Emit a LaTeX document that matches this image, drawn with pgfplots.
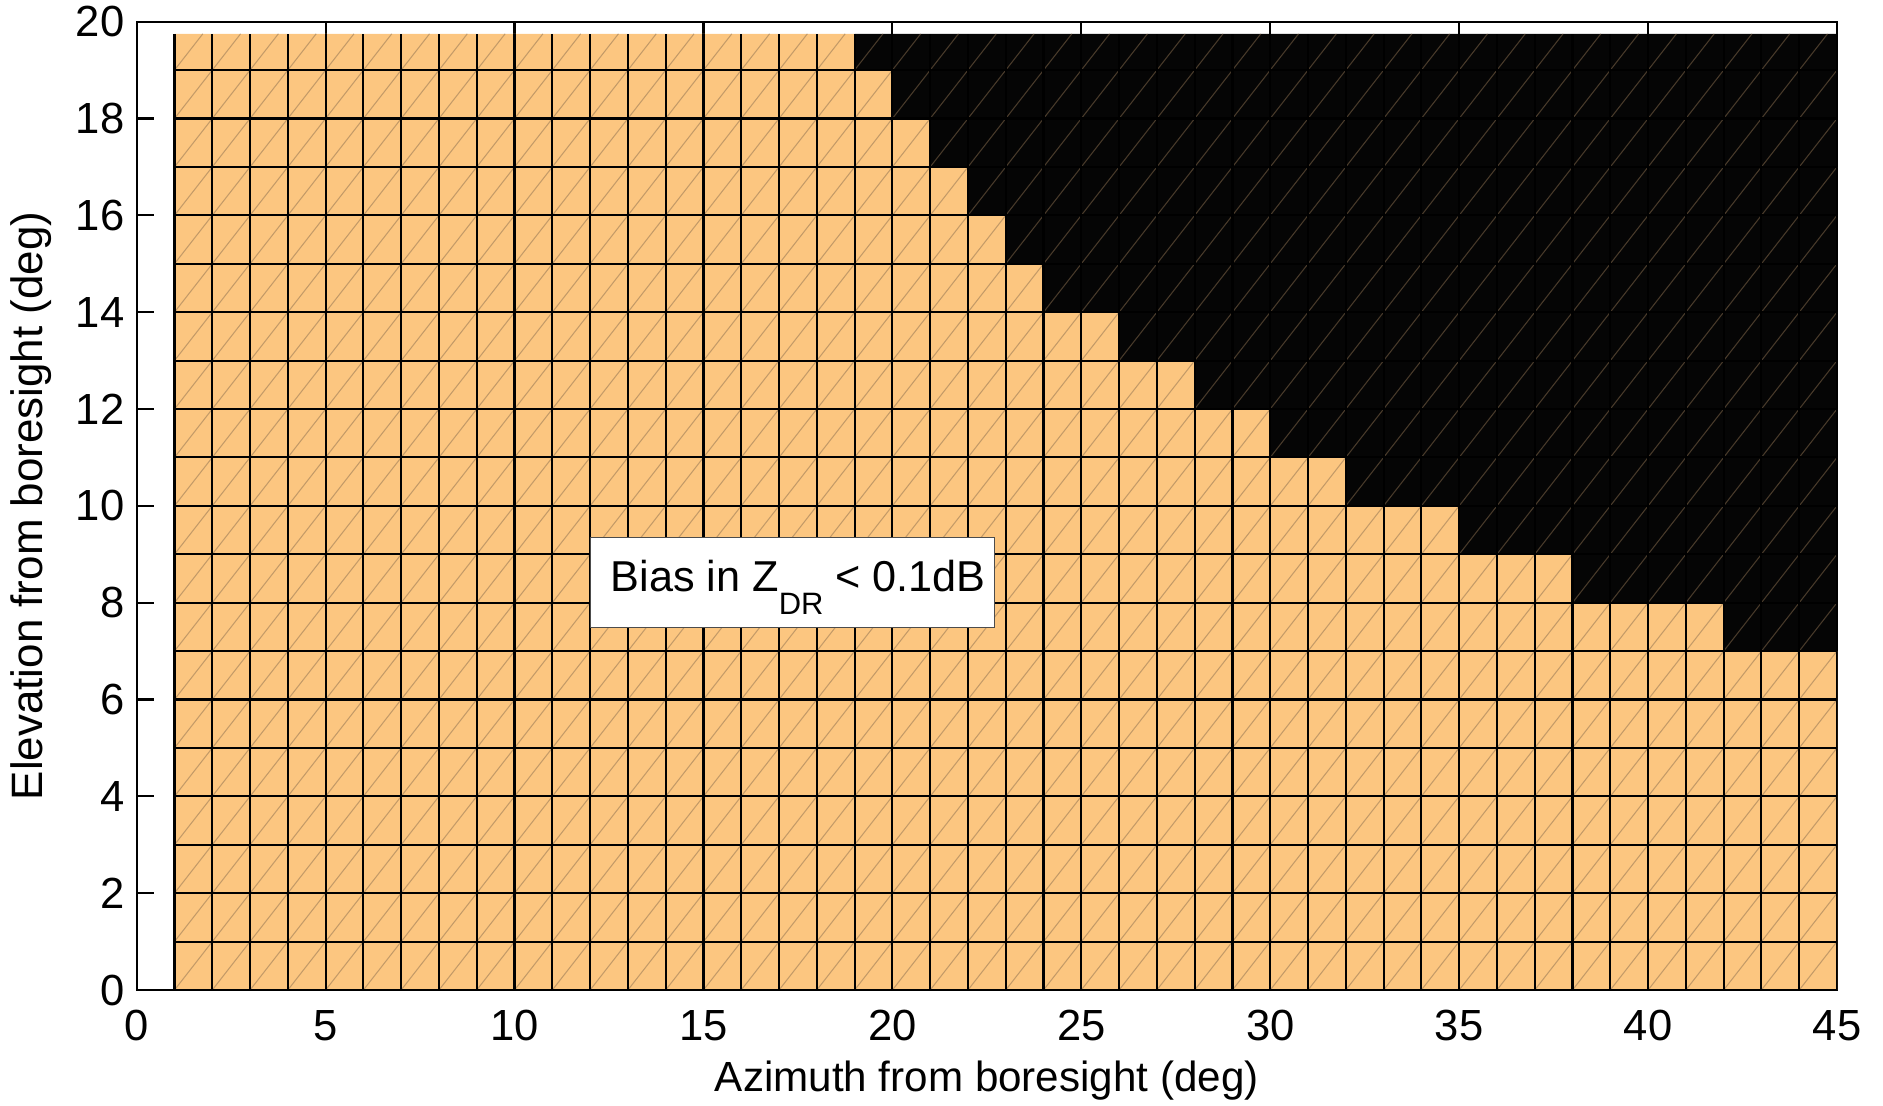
\documentclass[border=0pt]{standalone}
\usepackage{fontspec}
\setmainfont{Liberation Sans}
\usepackage{pgfplots}
\pgfplotsset{compat=1.18}
\definecolor{cellorange}{RGB}{252,198,128}
\definecolor{seam}{RGB}{140,112,80}

\begin{document}
\begin{tikzpicture}
\begin{axis}[
    scale only axis,
    width=170.03mm, height=96.83mm,
    xmin=0, xmax=45, ymin=0, ymax=20,
    xtick={0,5,...,45}, ytick={0,2,...,20},
    tick align=inside, major tick length=1.7mm,
    every tick/.style={black, line width=0.6pt},
    axis line style={line width=0.6pt},
    /pgf/number format/assume math mode=true,
    tick label style={font=\fontsize{12.4}{14}\selectfont},
    xticklabel style={yshift=-0.8mm},
    xlabel style={font=\fontsize{12}{14}\selectfont},
    ylabel style={font=\fontsize{12.5}{14}\selectfont},
    xlabel={Azimuth from boresight (deg)},
    ylabel={Elevation from boresight (deg)},
    xlabel style={at={(axis description cs:0.5,-0.094)}, anchor=center},
    ylabel style={at={(axis description cs:-0.0623,0.5)}, anchor=center},
]
% region where the bias stays below 0.1 dB
\addplot[fill=cellorange, draw=none] coordinates {
    (1,0) (45,0) (45,7) (42,7) (42,8) (38,8) (38,9) (35,9) (35,10)
    (32,10) (32,11) (30,11) (30,12) (28,12) (28,13) (26,13) (26,14)
    (24,14) (24,15) (23,15) (23,16) (22,16) (22,17) (21,17) (21,18)
    (20,18) (20,19) (19,19) (19,19.75) (1,19.75)};
% region above the threshold
\addplot[fill=black!98, draw=none] coordinates {
    (19,19.75) (19,19) (20,19) (20,18) (21,18) (21,17) (22,17) (22,16)
    (23,16) (23,15) (24,15) (24,14) (26,14) (26,13) (28,13) (28,12)
    (30,12) (30,11) (32,11) (32,10) (35,10) (35,9) (38,9) (38,8)
    (42,8) (42,7) (45,7) (45,19.75)};
% faint diagonal seams of the triangulated cells
\addplot[seam, opacity=0.5, line width=0.3pt, unbounded coords=jump] coordinates {
    (1,19) (1.75,19.75) (nan,nan) (1,18) (2.75,19.75) (nan,nan)
    (1,17) (3.75,19.75) (nan,nan) (1,16) (4.75,19.75) (nan,nan)
    (1,15) (5.75,19.75) (nan,nan) (1,14) (6.75,19.75) (nan,nan)
    (1,13) (7.75,19.75) (nan,nan) (1,12) (8.75,19.75) (nan,nan)
    (1,11) (9.75,19.75) (nan,nan) (1,10) (10.75,19.75) (nan,nan)
    (1,9) (11.75,19.75) (nan,nan) (1,8) (12.75,19.75) (nan,nan)
    (1,7) (13.75,19.75) (nan,nan) (1,6) (14.75,19.75) (nan,nan)
    (1,5) (15.75,19.75) (nan,nan) (1,4) (16.75,19.75) (nan,nan)
    (1,3) (17.75,19.75) (nan,nan) (1,2) (18.75,19.75) (nan,nan)
    (1,1) (19.75,19.75) (nan,nan) (1,0) (20.75,19.75) (nan,nan)
    (2,0) (21.75,19.75) (nan,nan) (3,0) (22.75,19.75) (nan,nan)
    (4,0) (23.75,19.75) (nan,nan) (5,0) (24.75,19.75) (nan,nan)
    (6,0) (25.75,19.75) (nan,nan) (7,0) (26.75,19.75) (nan,nan)
    (8,0) (27.75,19.75) (nan,nan) (9,0) (28.75,19.75) (nan,nan)
    (10,0) (29.75,19.75) (nan,nan) (11,0) (30.75,19.75) (nan,nan)
    (12,0) (31.75,19.75) (nan,nan) (13,0) (32.75,19.75) (nan,nan)
    (14,0) (33.75,19.75) (nan,nan) (15,0) (34.75,19.75) (nan,nan)
    (16,0) (35.75,19.75) (nan,nan) (17,0) (36.75,19.75) (nan,nan)
    (18,0) (37.75,19.75) (nan,nan) (19,0) (38.75,19.75) (nan,nan)
    (20,0) (39.75,19.75) (nan,nan) (21,0) (40.75,19.75) (nan,nan)
    (22,0) (41.75,19.75) (nan,nan) (23,0) (42.75,19.75) (nan,nan)
    (24,0) (43.75,19.75) (nan,nan) (25,0) (44.75,19.75) (nan,nan)
    (26,0) (45,19) (nan,nan) (27,0) (45,18) (nan,nan)
    (28,0) (45,17) (nan,nan) (29,0) (45,16) (nan,nan)
    (30,0) (45,15) (nan,nan) (31,0) (45,14) (nan,nan)
    (32,0) (45,13) (nan,nan) (33,0) (45,12) (nan,nan)
    (34,0) (45,11) (nan,nan) (35,0) (45,10) (nan,nan)
    (36,0) (45,9) (nan,nan) (37,0) (45,8) (nan,nan)
    (38,0) (45,7) (nan,nan) (39,0) (45,6) (nan,nan)
    (40,0) (45,5) (nan,nan) (41,0) (45,4) (nan,nan)
    (42,0) (45,3) (nan,nan) (43,0) (45,2) (nan,nan)
    (44,0) (45,1)};
% cell edges: columns
\addplot[ycomb, black, line width=0.6pt] coordinates {
    (1,19.75) (2,19.75) (3,19.75) (4,19.75) (5,19.75) (6,19.75) (7,19.75)
    (8,19.75) (9,19.75) (10,19.75) (11,19.75) (12,19.75) (13,19.75)
    (14,19.75) (15,19.75) (16,19.75) (17,19.75) (18,19.75) (19,19.75)
    (20,19.75) (21,19.75) (22,19.75) (23,19.75) (24,19.75) (25,19.75)
    (26,19.75) (27,19.75) (28,19.75) (29,19.75) (30,19.75) (31,19.75)
    (32,19.75) (33,19.75) (34,19.75) (35,19.75) (36,19.75) (37,19.75)
    (38,19.75) (39,19.75) (40,19.75) (41,19.75) (42,19.75) (43,19.75)
    (44,19.75) (45,19.75)};
% cell edges: rows
\addplot[black, line width=0.6pt] coordinates {
    (1,0) (45,0) (45,1) (1,1) (1,2) (45,2) (45,3) (1,3) (1,4) (45,4)
    (45,5) (1,5) (1,6) (45,6) (45,7) (1,7) (1,8) (45,8) (45,9) (1,9)
    (1,10) (45,10) (45,11) (1,11) (1,12) (45,12) (45,13) (1,13)
    (1,14) (45,14) (45,15) (1,15) (1,16) (45,16) (45,17) (1,17)
    (1,18) (45,18) (45,19) (1,19)};
\node[fill=white, draw=black!70, line width=0.3pt, inner sep=0pt,
      text height=5.37mm, text depth=3.63mm,
      minimum width=40.4mm, anchor=south west]
      at (axis cs:12,7.48)
      {\fontsize{12.3}{14}\selectfont\makebox[40.4mm][l]{\hspace{2mm}Bias in
       Z\raisebox{-2.3mm}{\fontsize{8.8}{10}\selectfont DR} < 0.1dB}};
\end{axis}
\pgfresetboundingbox
\useasboundingbox (-13.67mm,-11.5mm) rectangle (174.63mm,99.0mm);
\end{tikzpicture}
\end{document}
